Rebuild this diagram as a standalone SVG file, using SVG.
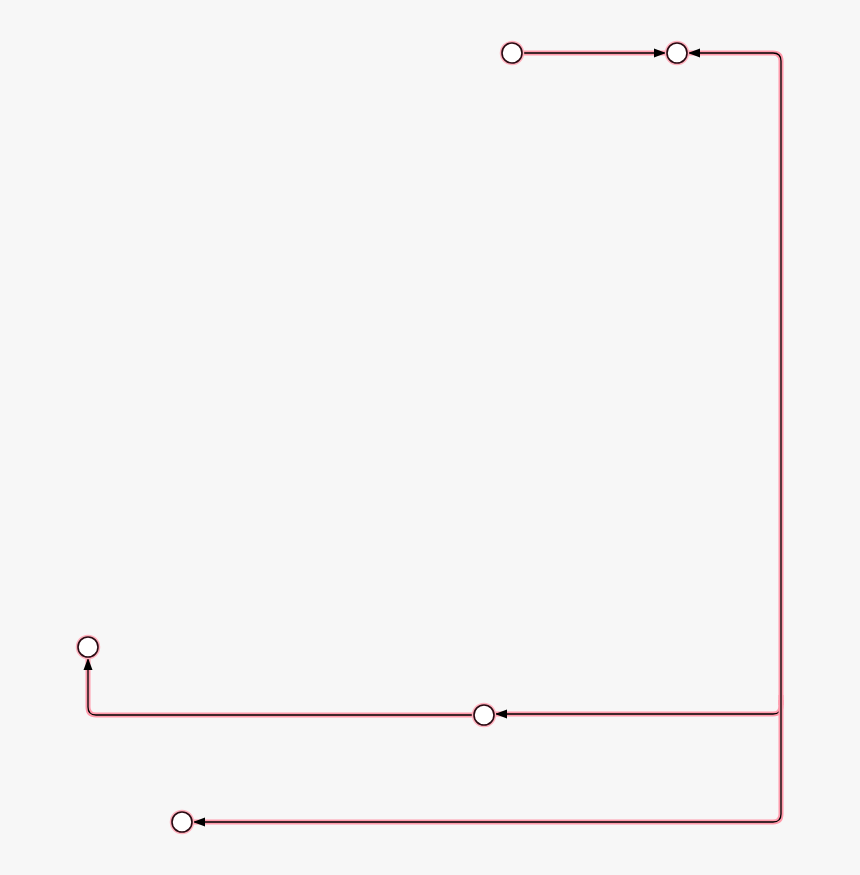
<svg xmlns="http://www.w3.org/2000/svg" width="860" height="875" viewBox="0 0 860 875">
<style>
.halo{fill:none;stroke:#ff9aab;stroke-width:5;stroke-linejoin:round}
.ln{fill:none;stroke:#000;stroke-width:1.3;stroke-linejoin:round}
.node circle.h{fill:none;stroke:#ffb0bd;stroke-width:4.5}
.node circle.c{fill:#fff;stroke:#2a0a12;stroke-width:1.6}
</style>
<defs>
<marker id="ah" viewBox="0 0 12 10" refX="12" refY="5" markerWidth="12" markerHeight="10" markerUnits="userSpaceOnUse" orient="auto">
<path d="M0,0.5 L12,5 L0,9.5 Z" fill="#000"/>
</marker>
</defs>
<rect width="860" height="875" fill="#f7f7f7"/>
<g id="connectors">
<path class="halo" d="M522,53 H666"/>
<path class="ln" d="M522,53 H666" marker-end="url(#ah)"/>
<path class="halo" d="M781,705 V61 Q781,53 773,53 H688"/>
<path class="ln" d="M781,705 V61 Q781,53 773,53 H688" marker-end="url(#ah)"/>
<path class="halo" d="M781,695 V706 Q781,714 773,714 H495"/>
<path class="ln" d="M781,695 V706 Q781,714 773,714 H495" marker-end="url(#ah)"/>
<path class="halo" d="M781,700 V814 Q781,822 773,822 H193"/>
<path class="ln" d="M781,700 V814 Q781,822 773,822 H193" marker-end="url(#ah)"/>
<path class="halo" d="M474,715 H96 Q88,715 88,707 V658"/>
<path class="ln" d="M474,715 H96 Q88,715 88,707 V658" marker-end="url(#ah)"/>
</g>
<g id="n1" class="node"><circle class="h" cx="512" cy="53" r="10"/><circle class="c" cx="512" cy="53" r="10"/></g>
<g id="n2" class="node"><circle class="h" cx="677" cy="53" r="10"/><circle class="c" cx="677" cy="53" r="10"/></g>
<g id="n3" class="node"><circle class="h" cx="484" cy="715" r="10"/><circle class="c" cx="484" cy="715" r="10"/></g>
<g id="n4" class="node"><circle class="h" cx="88" cy="647" r="10"/><circle class="c" cx="88" cy="647" r="10"/></g>
<g id="n5" class="node"><circle class="h" cx="182" cy="822" r="10"/><circle class="c" cx="182" cy="822" r="10"/></g>
</svg>
